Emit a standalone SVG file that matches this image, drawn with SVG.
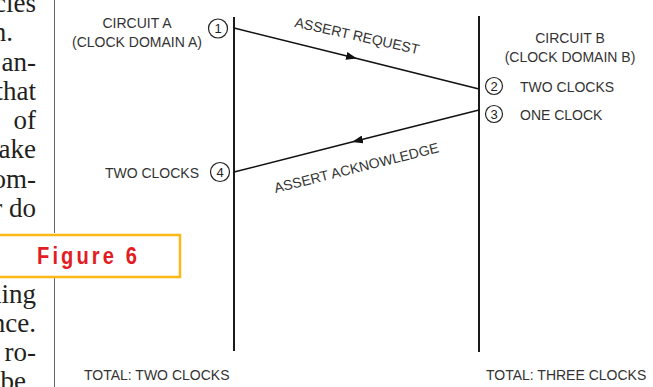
<svg xmlns="http://www.w3.org/2000/svg" width="653" height="387" viewBox="0 0 653 387">
  <style>
    .body { font-family: "Liberation Serif", "DejaVu Serif", serif; font-size: 27px; fill: #231f20; text-anchor: end; }
    .lbl { font-family: "Liberation Sans", Arial, sans-serif; font-size: 14px; fill: #333; }
    .num { font-family: "Liberation Sans", Arial, sans-serif; font-size: 13px; fill: #222; text-anchor: middle; }
    .ring { fill: #fff; stroke: #222; stroke-width: 1.2; }
    .life { stroke: #1a1a1a; stroke-width: 2; }
    .msg { fill: none; stroke: #111; stroke-width: 1.5; }
  </style>
  <defs>
    <marker id="head" viewBox="0 0 11 8" refX="11" refY="4" markerWidth="11" markerHeight="8" markerUnits="userSpaceOnUse" orient="auto">
      <path d="M0,0 L11,4 L0,8 z" fill="#111"/>
    </marker>
  </defs>
  <rect width="653" height="387" fill="#fff"/>

  <!-- column of body text on the page -->
  <g id="page-text">
    <text class="body" x="36" y="12">cles</text>
    <text class="body" x="13" y="41">n.</text>
    <text class="body" x="36" y="70.5">an-</text>
    <text class="body" x="36" y="100">that</text>
    <text class="body" x="36" y="129">of</text>
    <text class="body" x="36" y="158">nake</text>
    <text class="body" x="36" y="187.5">om-</text>
    <text class="body" x="36" y="217">r do</text>
    <text class="body" x="36" y="303">uing</text>
    <text class="body" x="36" y="332">nce.</text>
    <text class="body" x="36" y="361">ro-</text>
    <text class="body" x="26" y="390">be</text>
  </g>

  <!-- column rule -->
  <g id="rule" stroke="#666" stroke-width="1">
    <line x1="54.5" y1="0" x2="54.5" y2="233"/>
    <line x1="54.5" y1="278" x2="54.5" y2="387"/>
  </g>

  <!-- figure caption box -->
  <g id="caption">
    <rect x="-5" y="235" width="185" height="42" fill="#fff" stroke="#fdb913" stroke-width="2.5"/>
    <text x="0" y="0" transform="translate(37,264) scale(0.84,1)" textLength="119" lengthAdjust="spacing" font-family="Liberation Sans, Arial, sans-serif" font-weight="bold" font-size="24" fill="#e31b23">Figure 6</text>
  </g>

  <!-- lifelines -->
  <g id="circuit-a">
    <line class="life" x1="234" y1="17" x2="234" y2="351"/>
    <text class="lbl" x="137" y="28" text-anchor="middle">CIRCUIT A</text>
    <text class="lbl" x="137" y="47" text-anchor="middle">(CLOCK DOMAIN A)</text>
    <text class="lbl" x="84" y="380">TOTAL: TWO CLOCKS</text>
  </g>
  <g id="circuit-b">
    <line class="life" x1="479" y1="16" x2="479" y2="352"/>
    <text class="lbl" x="570" y="43" text-anchor="middle">CIRCUIT B</text>
    <text class="lbl" x="570" y="62" text-anchor="middle">(CLOCK DOMAIN B)</text>
    <text class="lbl" x="486" y="380">TOTAL: THREE CLOCKS</text>
  </g>

  <!-- step markers -->
  <g id="step-1">
    <circle class="ring" cx="218" cy="28.5" r="9.5"/>
    <text class="num" x="218" y="33">1</text>
  </g>
  <g id="step-2">
    <circle class="ring" cx="494" cy="86" r="8.5"/>
    <text class="num" x="494" y="90.5">2</text>
    <text class="lbl" x="520" y="92">TWO CLOCKS</text>
  </g>
  <g id="step-3">
    <circle class="ring" cx="494" cy="114" r="8.5"/>
    <text class="num" x="494" y="118.5">3</text>
    <text class="lbl" x="520" y="120">ONE CLOCK</text>
  </g>
  <g id="step-4">
    <circle class="ring" cx="220" cy="172" r="9.5"/>
    <text class="num" x="220" y="176.5">4</text>
    <text class="lbl" x="199" y="178" text-anchor="end">TWO CLOCKS</text>
  </g>

  <!-- messages -->
  <g id="connectors">
    <path class="msg" d="M234,28 L357,58.6 L479,89" marker-mid="url(#head)"/>
    <path class="msg" d="M479,110 L352,142.1 L234,172" marker-mid="url(#head)"/>
    <text class="lbl" font-size="13.5" text-anchor="middle" transform="translate(356,40.5) rotate(12.5)">ASSERT REQUEST</text>
    <text class="lbl" font-size="13.5" text-anchor="middle" transform="translate(357.5,172.5) rotate(-14)">ASSERT ACKNOWLEDGE</text>
  </g>
</svg>
